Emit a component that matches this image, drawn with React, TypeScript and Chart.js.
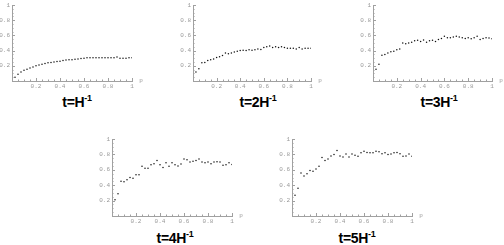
import React, { useEffect, useRef } from 'react';
import { Chart, registerables } from 'chart.js';

Chart.register(...registerables);

// p values (x axis)
const pValues = [
  0.025, 0.05, 0.075, 0.1, 0.125, 0.15, 0.175, 0.2, 0.225, 0.25,
  0.275, 0.3, 0.325, 0.35, 0.375, 0.4, 0.425, 0.45, 0.475, 0.5,
  0.525, 0.55, 0.575, 0.6, 0.625, 0.65, 0.675, 0.7, 0.725, 0.75,
  0.775, 0.8, 0.825, 0.85, 0.875, 0.9, 0.925, 0.95, 0.975, 1,
];

// series for t = H^-1 .. 5H^-1
const seriesT1 = [
  0.05, 0.09, 0.12, 0.14, 0.155, 0.17, 0.185, 0.2, 0.21, 0.22,
  0.23, 0.24, 0.245, 0.25, 0.255, 0.26, 0.27, 0.275, 0.28, 0.28,
  0.285, 0.29, 0.295, 0.3, 0.305, 0.305, 0.305, 0.305, 0.305, 0.305,
  0.305, 0.305, 0.305, 0.305, 0.315, 0.3, 0.3, 0.3, 0.305, 0.305,
];
const seriesT2 = [
  0.12, 0.16, 0.24, 0.245, 0.27, 0.28, 0.29, 0.31, 0.32, 0.335,
  0.37, 0.36, 0.37, 0.38, 0.39, 0.4, 0.405, 0.4, 0.41, 0.405,
  0.41, 0.42, 0.415, 0.44, 0.45, 0.46, 0.44, 0.45, 0.44, 0.45,
  0.44, 0.43, 0.43, 0.43, 0.42, 0.44, 0.42, 0.43, 0.43, 0.43,
];
const seriesT3 = [
  0.155, 0.22, 0.34, 0.35, 0.37, 0.385, 0.39, 0.41, 0.42, 0.5,
  0.49, 0.5, 0.51, 0.53, 0.535, 0.52, 0.54, 0.51, 0.53, 0.535,
  0.52, 0.545, 0.56, 0.59, 0.57, 0.57, 0.58, 0.59, 0.58, 0.57,
  0.56, 0.57, 0.555, 0.57, 0.59, 0.545, 0.56, 0.57, 0.565, 0.555,
];
const seriesT4 = [
  0.21, 0.29, 0.45, 0.445, 0.47, 0.5, 0.49, 0.535, 0.535, 0.645,
  0.62, 0.62, 0.665, 0.68, 0.72, 0.665, 0.63, 0.69, 0.645, 0.69,
  0.665, 0.65, 0.675, 0.74, 0.73, 0.7, 0.71, 0.72, 0.74, 0.7,
  0.69, 0.7, 0.68, 0.7, 0.705, 0.7, 0.66, 0.665, 0.69, 0.67,
];
const seriesT5 = [
  0.27, 0.36, 0.56, 0.52, 0.55, 0.59, 0.58, 0.61, 0.645, 0.76,
  0.72, 0.74, 0.78, 0.8, 0.85, 0.78, 0.765, 0.805, 0.765, 0.805,
  0.79, 0.775, 0.82, 0.84, 0.825, 0.82, 0.82, 0.84, 0.835, 0.81,
  0.82, 0.8, 0.805, 0.82, 0.825, 0.81, 0.775, 0.78, 0.805, 0.775,
];

// tick values
const majorTicks = [0.2, 0.4, 0.6, 0.8, 1];
const minorTicks = [
  0.05, 0.1, 0.15, 0.25, 0.3, 0.35, 0.45, 0.5, 0.55,
  0.65, 0.7, 0.75, 0.85, 0.9, 0.95,
];
const titleMultipliers = ['', '2', '3', '4', '5'];
const axisLabelX = 'p';

type Plot = { left: number; top: number; right: number; bottom: number };

const panels: { values: number[]; plot: Plot; titleX: number; titleTop: number; mult: string }[] = [
  { values: seriesT1, plot: { left: 12, top: 5, right: 132, bottom: 81 }, titleX: 77, titleTop: 95, mult: titleMultipliers[0] },
  { values: seriesT2, plot: { left: 193, top: 5, right: 311, bottom: 81 }, titleX: 258, titleTop: 95, mult: titleMultipliers[1] },
  { values: seriesT3, plot: { left: 373, top: 5, right: 492, bottom: 81 }, titleX: 439, titleTop: 95, mult: titleMultipliers[2] },
  { values: seriesT4, plot: { left: 112, top: 139, right: 232, bottom: 216 }, titleX: 175, titleTop: 231, mult: titleMultipliers[3] },
  { values: seriesT5, plot: { left: 292, top: 139, right: 412, bottom: 216 }, titleX: 357, titleTop: 231, mult: titleMultipliers[4] },
];

const GRAY = '#999999';
const TICK_FONT = { family: '"Liberation Mono", "DejaVu Sans Mono", monospace', size: 6 };

const fmt = (v: number) => (Math.abs(v - 1) < 1e-9 ? '1' : v.toFixed(1));

const decorPlugin = {
  id: 'decor',
  afterDraw(chart: any) {
    const { ctx, chartArea } = chart;
    const xs = chart.scales.x;
    const ys = chart.scales.y;
    ctx.save();
    ctx.strokeStyle = '#a0a0a0';
    ctx.lineWidth = 1;
    ctx.beginPath();
    const tick = (vals: number[], len: number) => {
      vals.forEach((v) => {
        const px = Math.round(xs.getPixelForValue(v)) + 0.5;
        ctx.moveTo(px, chartArea.bottom);
        ctx.lineTo(px, chartArea.bottom - len);
        const py = Math.round(ys.getPixelForValue(v)) + 0.5;
        ctx.moveTo(chartArea.left, py);
        ctx.lineTo(chartArea.left + len, py);
      });
    };
    tick(majorTicks, 3);
    tick(minorTicks, 1.5);
    ctx.stroke();
    ctx.fillStyle = GRAY;
    ctx.font = '6px "Liberation Mono", monospace';
    ctx.textAlign = 'center';
    ctx.textBaseline = 'middle';
    ctx.fillText(axisLabelX, chartArea.right + 9, chartArea.bottom - 1);
    ctx.restore();
  },
};

function Panel({ values, plot }: { values: number[]; plot: Plot }) {
  const ref = useRef<HTMLCanvasElement>(null);
  const cx = plot.left - 14;
  const cy = plot.top - 5;
  const cw = Math.min(plot.right + 16, 504) - cx;
  const ch = plot.bottom + 11 - cy;

  useEffect(() => {
    if (!ref.current) return;
    const chart = new Chart(ref.current, {
      type: 'scatter',
      data: {
        datasets: [
          {
            data: pValues.map((p, i) => ({ x: p, y: values[i] })),
            pointRadius: 0.75,
            pointBackgroundColor: '#111',
            pointBorderWidth: 0,
            showLine: false,
          },
        ],
      },
      options: {
        responsive: false,
        animation: false,
        devicePixelRatio: 1,
        layout: { padding: { top: plot.top - cy, right: cx + cw - plot.right, left: 0, bottom: 0 } },
        plugins: { legend: { display: false }, tooltip: { enabled: false }, title: { display: false } },
        scales: {
          x: {
            type: 'linear',
            min: 0,
            max: 1,
            afterBuildTicks: (s: any) => {
              s.ticks = majorTicks.map((v) => ({ value: v }));
            },
            afterFit: (s: any) => {
              s.height = ch - (plot.bottom - cy);
              s.paddingLeft = 0;
              s.paddingRight = 0;
            },
            ticks: { autoSkip: false, maxRotation: 0, padding: 2, color: GRAY, font: TICK_FONT, callback: (v: any) => fmt(Number(v)) },
            grid: { display: true, drawOnChartArea: false, drawTicks: false },
            border: { display: true, color: '#a0a0a0', width: 1 },
          },
          y: {
            type: 'linear',
            min: 0,
            max: 1,
            afterBuildTicks: (s: any) => {
              s.ticks = majorTicks.map((v) => ({ value: v }));
            },
            afterFit: (s: any) => {
              s.width = plot.left - cx;
              s.paddingTop = 0;
              s.paddingBottom = 0;
            },
            ticks: { autoSkip: false, padding: 2, color: GRAY, font: TICK_FONT, callback: (v: any) => fmt(Number(v)) },
            grid: { display: true, drawOnChartArea: false, drawTicks: false },
            border: { display: true, color: '#a0a0a0', width: 1 },
          },
        },
      } as any,
      plugins: [decorPlugin],
    });
    return () => chart.destroy();
  }, []);

  return (
    <canvas
      ref={ref}
      width={cw}
      height={ch}
      style={{ position: 'absolute', left: cx, top: cy, width: cw, height: ch }}
    />
  );
}

export default function App() {
  return (
    <div style={{ position: 'absolute', left: 0, top: 0, width: 504, height: 245, background: '#fff', overflow: 'hidden' }}>
      {panels.map((pn, i) => (
        <React.Fragment key={i}>
          <Panel values={pn.values} plot={pn.plot} />
          <div
            style={{
              position: 'absolute',
              left: pn.titleX,
              top: pn.titleTop,
              transform: 'translateX(-50%)',
              whiteSpace: 'nowrap',
              fontFamily: '"Liberation Sans", Arial, sans-serif',
              fontWeight: 'bold',
              fontSize: 14,
              lineHeight: '14px',
              color: '#000',
              letterSpacing: -0.3,
            }}
          >
            t={pn.mult}H
            <span style={{ position: 'relative', top: -6, fontSize: 9, verticalAlign: 'baseline' }}>-1</span>
          </div>
        </React.Fragment>
      ))}
    </div>
  );
}
